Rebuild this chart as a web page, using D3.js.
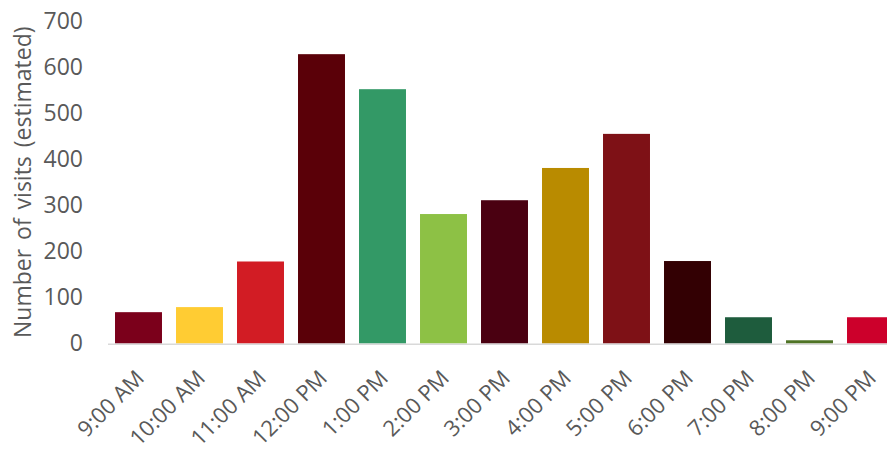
<!DOCTYPE html>
<html>
<head>
<meta charset="utf-8">
<script src="https://cdn.jsdelivr.net/npm/d3@7/dist/d3.min.js"></script>
<style>
  html, body { margin: 0; padding: 0; background: #fff; overflow: hidden; }
  svg { display: block; }
</style>
</head>
<body>
<svg id="chart" width="887" height="451"></svg>
<script>
// Hourly visits
const hours = ["9:00 AM", "10:00 AM", "11:00 AM", "12:00 PM", "1:00 PM", "2:00 PM", "3:00 PM",
               "4:00 PM", "5:00 PM", "6:00 PM", "7:00 PM", "8:00 PM", "9:00 PM"];
const visits = [68, 79, 178, 628, 552, 281, 311, 381, 455, 179, 57, 7, 57];
const barColors = ["#7b001b", "#ffcc33", "#d21c24", "#5a0008", "#339966", "#8dc145", "#4a0011",
                   "#b98b00", "#7e1116", "#330003", "#1e5c3d", "#4f7325", "#cc002b"];
const yTicks = [0, 100, 200, 300, 400, 500, 600, 700];

const svg = d3.select("#chart");
const font = "'Open Sans', 'Noto Sans', sans-serif";
const textColor = "#595959";

const x = d3.scaleBand()
  .domain(hours)
  .range([108, 901])
  .paddingInner(0.23)
  .paddingOuter(0.115);

const y = d3.scaleLinear()
  .domain([0, 700])
  .range([343.5, 21]);

// Bars
svg.append("g")
  .selectAll("rect")
  .data(hours)
  .join("rect")
  .attr("x", d => x(d))
  .attr("width", x.bandwidth())
  .attr("y", (d, i) => y(visits[i]))
  .attr("height", (d, i) => y(0) - y(visits[i]))
  .attr("fill", (d, i) => barColors[i]);

// Y axis (labels only)
const yAxis = d3.axisLeft(y).tickValues(yTicks).tickSize(0).tickPadding(0);
const yg = svg.append("g").attr("transform", "translate(83,0)").call(yAxis);
yg.select(".domain").remove();
yg.selectAll("text")
  .attr("fill", textColor)
  .style("font-family", font)
  .style("font-size", "23px");

// X axis: baseline and rotated labels
const xAxis = d3.axisBottom(x).tickSize(0).tickPadding(0);
const xg = svg.append("g").attr("transform", `translate(0,${y(0)})`).call(xAxis);
xg.select(".domain").remove();
xg.selectAll("text")
  .attr("fill", textColor)
  .style("font-family", font)
  .style("font-size", "22px")
  .attr("text-anchor", "end")
  .attr("dy", null)
  .attr("y", 0)
  .attr("transform", "translate(7,36) rotate(-45)");

svg.append("line")
  .attr("x1", 108).attr("x2", 901)
  .attr("y1", y(0) + 0.75).attr("y2", y(0) + 0.75)
  .attr("stroke", "#d9d9d9")
  .attr("stroke-width", 1.5);

// Y axis title
svg.append("text")
  .attr("transform", `translate(31,${(y(0) + y(700)) / 2}) rotate(-90)`)
  .attr("text-anchor", "middle")
  .attr("fill", textColor)
  .style("font-family", font)
  .style("font-size", "23px")
  .style("word-spacing", "3px")
  .text("Number of visits (estimated)");
</script>
</body>
</html>
